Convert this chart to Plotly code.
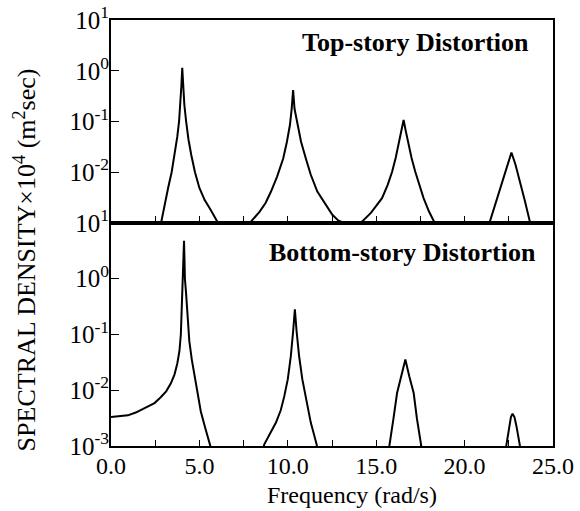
import plotly.graph_objects as go

# Top-story distortion spectral density
top_freq = [2.6, 2.82, 3.03, 3.23, 3.43, 3.60, 3.75, 3.85, 3.92, 3.98, 4.03, 4.08, 4.15, 4.25, 4.38,
            4.54, 4.75, 5.0, 5.3, 5.6, 5.85, 6.03, 6.3,
            6.9, 7.5,
            7.92, 8.4, 8.75, 9.05, 9.4, 9.74, 9.95, 10.12, 10.22, 10.30, 10.38, 10.55, 10.75, 11.02,
            11.3, 11.67, 12.1, 12.52, 12.85, 13.18, 13.7, 14.21,
            14.7, 15.33, 15.65, 15.9, 16.1, 16.27, 16.42, 16.55, 16.68, 16.83, 17.0, 17.21, 17.43,
            17.68, 17.98, 18.3, 18.6,
            19.8,
            21.1, 21.43, 21.8, 22.18, 22.42, 22.65, 22.88, 23.12, 23.4, 23.69, 24.0]
top_psd = [0.0004, 0.001, 0.00224, 0.0049, 0.01, 0.0219, 0.0501, 0.1, 0.211, 0.501, 1.148, 0.501, 0.211, 0.1, 0.0447,
           0.0219, 0.01, 0.0049, 0.00282, 0.00191, 0.00132, 0.001, 0.00071,
           0.0005, 0.00063,
           0.00107, 0.00166, 0.00251, 0.00417, 0.00832, 0.0186, 0.0398, 0.0851, 0.178, 0.417, 0.178, 0.0851, 0.0398, 0.0186,
           0.00891, 0.00417, 0.0024, 0.00145, 0.00112, 0.001, 0.00089, 0.00107,
           0.00158, 0.00309, 0.00562, 0.0102, 0.0191, 0.0347, 0.0631, 0.107, 0.0631, 0.0347, 0.0191, 0.0102, 0.00562,
           0.00309, 0.0017, 0.001, 0.00063,
           0.0004,
           0.00063, 0.00107, 0.00282, 0.00708, 0.0141, 0.0245, 0.0141, 0.00708, 0.00282, 0.00107, 0.00063]

# Bottom-story distortion spectral density
bot_freq = [0.0, 0.5, 0.96, 1.4, 1.71, 2.1, 2.46, 2.8, 3.12, 3.38, 3.59, 3.75, 3.87, 3.95, 4.0, 4.04,
            4.08, 4.13, 4.16, 4.18, 4.24, 4.30, 4.43, 4.57, 4.71, 4.9, 5.08, 5.35, 5.61, 5.8,
            7.0, 8.4,
            8.67, 9.0, 9.33, 9.6, 9.8, 10.0, 10.17, 10.30, 10.40, 10.5, 10.64, 10.82, 11.01, 11.15,
            11.3, 11.47, 11.63, 11.8,
            13.5, 15.6,
            15.77, 15.98, 16.18, 16.42, 16.65, 16.87, 17.12, 17.3, 17.5, 17.7,
            20.0, 22.2,
            22.37, 22.52, 22.62, 22.71, 22.82, 22.93, 23.12, 23.3, 25.0]
bot_psd = [0.00331, 0.00339, 0.00355, 0.00398, 0.00447, 0.00501, 0.00589, 0.00741, 0.00955, 0.0132, 0.0191, 0.0302,
           0.0501, 0.1, 0.251, 1.0,
           2.24, 4.79, 1.995, 1.0, 0.589, 0.282, 0.0759, 0.0355, 0.0191, 0.00851, 0.00417, 0.002, 0.00107, 0.00063,
           0.0004, 0.0005,
           0.00107, 0.00166, 0.00263, 0.00437, 0.00776, 0.0158, 0.0407, 0.112, 0.282, 0.112, 0.0407, 0.0158, 0.00776, 0.00437,
           0.00263, 0.00166, 0.00107, 0.0005,
           0.0004, 0.0005,
           0.00107, 0.00316, 0.00891, 0.0178, 0.0355, 0.0178, 0.00891, 0.00316, 0.00107, 0.0005,
           0.0004, 0.0005,
           0.00107, 0.00229, 0.00331, 0.0038, 0.00331, 0.00229, 0.00107, 0.0005, 0.0004]

x_tickvals = [0, 2.5, 5, 7.5, 10, 12.5, 15, 17.5, 20, 22.5, 25]
x_ticktext = ["0.0", "", "5.0", "", "10.0", "", "15.0", "", "20.0", "", "25.0"]
top_yvals = [10, 1, 0.1, 0.01]
top_ytext = ["10<sup>1</sup>", "10<sup>0</sup>", "10<sup>-1</sup>", "10<sup>-2</sup>"]
bot_yvals = [10, 1, 0.1, 0.01, 0.001]
bot_ytext = ["10<sup>1</sup>", "10<sup>0</sup>", "10<sup>-1</sup>", "10<sup>-2</sup>", "10<sup>-3</sup>"]

FONT = "Liberation Serif, Times New Roman, DejaVu Serif, serif"
split = 0.5235

fig = go.Figure()
fig.add_trace(go.Scatter(x=top_freq, y=top_psd, mode="lines",
                         line=dict(color="black", width=2), xaxis="x", yaxis="y", showlegend=False))
fig.add_trace(go.Scatter(x=bot_freq, y=bot_psd, mode="lines",
                         line=dict(color="black", width=2), xaxis="x2", yaxis="y2", showlegend=False))

axis_common = dict(showline=True, linecolor="black", linewidth=2, mirror=True, automargin=False,
                   showgrid=False, zeroline=False, ticks="inside", tickcolor="black", tickwidth=1)
xfont = dict(family=FONT, size=24, color="black")
yfont = dict(family=FONT, size=25, color="black")

fig.update_layout(
    width=580, height=511,
    margin=dict(l=111, r=27, t=20, b=64.5),
    paper_bgcolor="white", plot_bgcolor="white",
    font=dict(family=FONT, color="black"),
    xaxis=dict(domain=[0, 1], anchor="y", range=[0, 25], tickvals=x_tickvals,
               showticklabels=False, ticklen=7, tickfont=xfont, **axis_common),
    yaxis=dict(domain=[split, 1], anchor="x", type="log", range=[-3, 1],
               tickvals=top_yvals, ticktext=top_ytext, ticklen=8, tickfont=yfont,
               ticklabelstandoff=-5, **axis_common),
    xaxis2=dict(domain=[0, 1], anchor="y2", range=[0, 25], tickvals=x_tickvals,
                ticktext=x_ticktext, ticklen=6, tickfont=xfont, ticklabelstandoff=-3, **axis_common),
    yaxis2=dict(domain=[0, split], anchor="x2", type="log", range=[-3, 1],
                tickvals=bot_yvals, ticktext=bot_ytext, ticklen=8, tickfont=yfont,
                ticklabelstandoff=-5, **axis_common),
    annotations=[
        dict(text="<b>Top-story Distortion</b>", xref="paper", yref="paper",
             x=0.951, y=0.948, xanchor="right", yanchor="middle", showarrow=False,
             font=dict(family=FONT, size=26, color="black")),
        dict(text="<b>Bottom-story Distortion</b>", xref="paper", yref="paper",
             x=0.967, y=0.4536, xanchor="right", yanchor="middle", showarrow=False,
             font=dict(family=FONT, size=26, color="black")),
        dict(text="SPECTRAL DENSITY×10<sup>4</sup> (m<sup>2</sup>sec)", xref="paper", yref="paper",
             x=-0.1946, y=0.438, xanchor="center", yanchor="middle", textangle=-90,
             showarrow=False, font=dict(family=FONT, size=26, color="black")),
        dict(text="Frequency (rad/s)", xref="paper", yref="paper",
             x=0.545, y=-0.147, xanchor="center", yanchor="bottom", showarrow=False,
             borderpad=0, font=dict(family=FONT, size=24, color="black")),
    ],
)

fig.write_html("out.html")
